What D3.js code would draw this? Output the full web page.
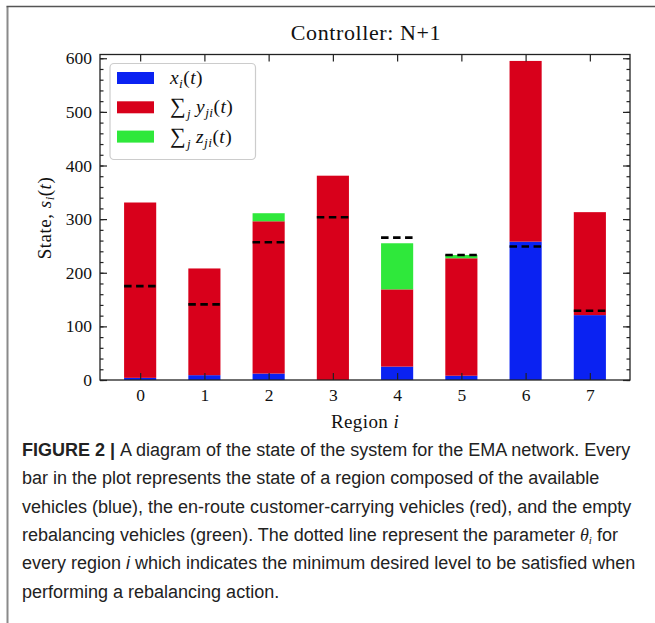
<!DOCTYPE html>
<html>
<head>
<meta charset="utf-8">
<script src="https://cdn.jsdelivr.net/npm/d3@7"></script>
<style>
  body { margin: 0; background: #fff; }
  svg text { fill: #111; }
  .tick text { font-family: "Liberation Serif", "DejaVu Serif", serif; font-size: 17.5px; }
  .caption { font-family: "Liberation Sans", Arial, sans-serif; font-size: 18px; fill: #222; }
</style>
</head>
<body>
<svg id="chart" width="655" height="623"></svg>
<script>
// data
const regions = [0, 1, 2, 3, 4, 5, 6, 7];
const available = [4, 9, 12, 0, 25, 8, 258, 121];      // x_i(t), blue
const enroute = [327, 199, 284, 381, 144, 219, 337, 192]; // sum_j y_ji(t), red
const rebalancing = [0, 0, 15, 0, 86, 6, 0, 0];        // sum_j z_ji(t), green
const theta = [175, 141, 257, 303.5, 265.5, 233, 249, 129];
const yTicks = [0, 100, 200, 300, 400, 500, 600];

const captionLines = [
    ["FIGURE 2 | ", "A diagram of the state of the system for the EMA network. Every"],
    ["", "bar in the plot represents the state of a region composed of the available"],
    ["", "vehicles (blue), the en-route customer-carrying vehicles (red), and the empty"],
    ["", "rebalancing vehicles (green). The dotted line represent the parameter @θ for"],
    ["", "every region # which indicates the minimum desired level to be satisfied when"],
    ["", "performing a rebalancing action."]
];

let svg = d3.select("#chart"),
    margin = {top: 54.5, right: 25, bottom: 243, left: 100},
    width = +svg.attr("width"),
    height = +svg.attr("height"),
    x0 = margin.left, x1 = width - margin.right,
    y0 = height - margin.bottom, y1 = margin.top;

const colors = {available: "#0a22f2", enroute: "#d8001b", rebalancing: "#2fe83b"};

// outer frame of the figure
svg.append("path").attr("d", "M7.5,623 V6.5").attr("stroke", "#8a8a8a").attr("stroke-width", 2).attr("fill", "none");
svg.append("path").attr("d", "M6.5,6.5 H655").attr("stroke", "#555").attr("stroke-width", 1.3).attr("fill", "none");

let x = d3.scaleLinear().domain([-0.625, 7.625]).range([x0, x1]);
let y = d3.scaleLinear().domain([0, 607]).range([y0, y1]);

let rows = regions.map((r, i) => ({region: r, available: available[i], enroute: enroute[i], rebalancing: rebalancing[i]}));
let stack = d3.stack().keys(["available", "enroute", "rebalancing"]);
let series = stack(rows);

let barW = x(0.5) - x(0);

svg.append("g").selectAll("g")
    .data(series)
    .enter().append("g")
    .attr("fill", d => colors[d.key])
    .selectAll("rect")
    .data(d => d)
    .enter().append("rect")
    .attr("x", d => x(d.data.region) - barW / 2)
    .attr("width", barW)
    .attr("y", d => y(d[1]))
    .attr("height", d => y(d[0]) - y(d[1]));

// theta_i levels
svg.append("g").selectAll("line")
    .data(regions)
    .enter().append("line")
    .attr("x1", r => x(r) - barW / 2)
    .attr("x2", r => x(r) + barW / 2)
    .attr("y1", (r, i) => y(theta[i]))
    .attr("y2", (r, i) => y(theta[i]))
    .attr("stroke", "#000")
    .attr("stroke-width", 2.6)
    .attr("stroke-dasharray", "7.5,4.5");

// axes, ticks pointing inwards on all sides
let minor = d3.range(0, 601, 20);
function styleAxis(g) {
    g.select(".domain").remove();
    g.selectAll(".tick line").attr("stroke", "#222").attr("stroke-width", 1.2);
}
svg.append("g").attr("transform", `translate(${x0},0)`)
    .call(d3.axisLeft(y).tickValues(yTicks).tickSize(-7).tickPadding(8)).call(styleAxis);
svg.append("g").attr("transform", `translate(${x0},0)`)
    .call(d3.axisLeft(y).tickValues(minor).tickSize(-3.5).tickFormat("")).call(styleAxis);
svg.append("g").attr("transform", `translate(${x1},0)`)
    .call(d3.axisRight(y).tickValues(yTicks).tickSize(-7).tickFormat("")).call(styleAxis);
svg.append("g").attr("transform", `translate(${x1},0)`)
    .call(d3.axisRight(y).tickValues(minor).tickSize(-3.5).tickFormat("")).call(styleAxis);
svg.append("g").attr("transform", `translate(0,${y0})`)
    .call(d3.axisBottom(x).tickValues(regions).tickSize(-7).tickPadding(9).tickFormat(d3.format("d"))).call(styleAxis);
svg.append("g").attr("transform", `translate(0,${y1})`)
    .call(d3.axisTop(x).tickValues(regions).tickSize(-7).tickFormat("")).call(styleAxis);

svg.append("rect")
    .attr("x", x0).attr("y", y1).attr("width", x1 - x0).attr("height", y0 - y1)
    .attr("fill", "none").attr("stroke", "#222").attr("stroke-width", 1.3);

const serif = "'Liberation Serif', 'DejaVu Serif', serif";

// title and axis labels
svg.append("text").attr("x", 366).attr("y", 40).attr("text-anchor", "middle")
    .style("font-family", serif).style("font-size", "22px").style("letter-spacing", "0.6px")
    .text("Controller:  N+1");

let xl = svg.append("text").attr("x", 365).attr("y", 428).attr("text-anchor", "middle")
    .style("font-family", serif).style("font-size", "19px").style("letter-spacing", "0.4px");
xl.append("tspan").text("Region ");
xl.append("tspan").style("font-style", "italic").text("i");

let yl = svg.append("text").attr("transform", "translate(51,218) rotate(-90)").attr("text-anchor", "middle")
    .style("font-family", serif).style("font-size", "19px").style("letter-spacing", "0.5px");
yl.append("tspan").text("State,  ");
yl.append("tspan").style("font-style", "italic").text("s");
yl.append("tspan").style("font-style", "italic").style("font-size", "13px").attr("dy", 3).text("i");
yl.append("tspan").attr("dy", -3).text("(");
yl.append("tspan").style("font-style", "italic").text("t");
yl.append("tspan").text(")");

// legend
let legend = svg.append("g");
legend.append("rect")
    .attr("x", 110).attr("y", 63.5).attr("width", 145.5).attr("height", 96).attr("rx", 4)
    .attr("fill", "#fff").attr("fill-opacity", 0.85).attr("stroke", "#ccc").attr("stroke-width", 1.2);

let legendItems = [
    {key: "available", sum: false, v: "x", sub: "i"},
    {key: "enroute", sum: true, v: "y", sub: "ji"},
    {key: "rebalancing", sum: true, v: "z", sub: "ji"}
];
legendItems.forEach((d, i) => {
    let cy = 78 + i * 29.3;
    legend.append("rect").attr("x", 117).attr("y", cy - 6).attr("width", 37).attr("height", 12)
        .attr("fill", colors[d.key]);
    let t = legend.append("text").attr("x", 170).attr("y", cy + 6)
        .style("font-family", serif).style("font-size", "19.5px").style("letter-spacing", "0.4px");
    if (d.sum) {
        t.append("tspan").style("font-size", "22px").text("∑");
        t.append("tspan").style("font-style", "italic").style("font-size", "13px").attr("dy", 5).attr("dx", 1).text("j");
        t.append("tspan").attr("dy", -5).attr("dx", 5).style("font-style", "italic").text(d.v);
    } else {
        t.append("tspan").style("font-style", "italic").text(d.v);
    }
    t.append("tspan").style("font-style", "italic").style("font-size", "13.5px").attr("dy", 4).text(d.sub);
    t.append("tspan").attr("dy", -4).text("(");
    t.append("tspan").style("font-style", "italic").text("t");
    t.append("tspan").text(")");
});

// caption
captionLines.forEach((line, i) => {
    let t = svg.append("text").attr("class", "caption").attr("x", 22).attr("y", 456 + i * 28.3);
    if (line[0]) t.append("tspan").style("font-weight", "bold").text(line[0]);
    let rest = line[1];
    if (rest.includes("@θ")) {
        let parts = rest.split("@θ");
        t.append("tspan").text(parts[0]);
        t.append("tspan").style("font-family", serif).style("font-style", "italic").text("θ");
        t.append("tspan").style("font-family", serif).style("font-style", "italic").style("font-size", "11px").attr("dy", 3).text("i");
        t.append("tspan").attr("dy", -3).text(parts[1]);
    } else if (rest.includes("#")) {
        let parts = rest.split("#");
        t.append("tspan").text(parts[0]);
        t.append("tspan").style("font-style", "italic").text("i");
        t.append("tspan").text(parts[1]);
    } else {
        t.append("tspan").text(rest);
    }
});
</script>
</body>
</html>
